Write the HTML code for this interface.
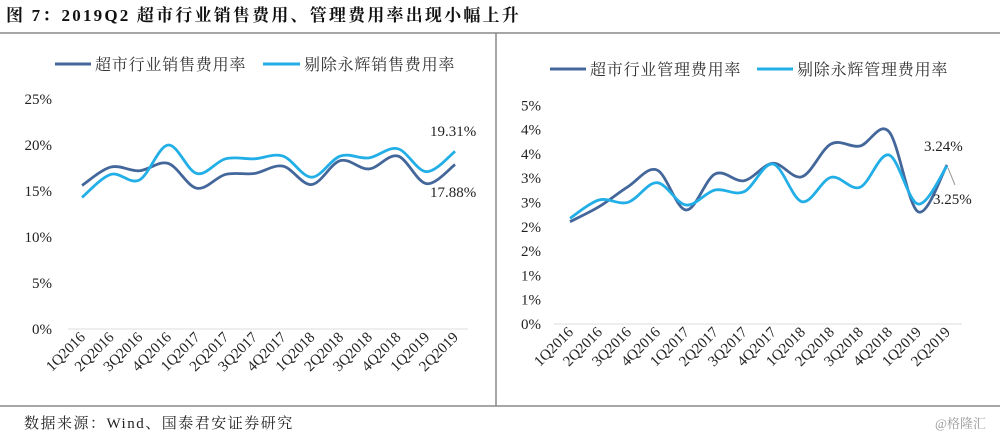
<!DOCTYPE html>
<html><head><meta charset="utf-8"><style>
html,body{margin:0;padding:0;background:#fff;width:1000px;height:437px;overflow:hidden}
svg{display:block}
text{font-family:"Liberation Serif","Noto Serif CJK SC",serif}
</style></head><body>
<svg id="s" width="1000" height="437" xmlns="http://www.w3.org/2000/svg">
<text x="6" y="21" font-size="17" font-weight="bold" fill="#111" letter-spacing="2.2">图 7：2019Q2 超市行业销售费用、管理费用率出现小幅上升</text>
<line x1="0" y1="33" x2="1000" y2="33" stroke="#888" stroke-width="1.5"/>
<line x1="496" y1="33" x2="496" y2="406" stroke="#888" stroke-width="1.5"/>
<line x1="0" y1="406" x2="1000" y2="406" stroke="#888" stroke-width="1.5"/>
<text x="24" y="428" font-size="15" fill="#222" letter-spacing="1.5">数据来源：Wind、国泰君安证券研究</text>
<text x="935" y="428" font-size="13" fill="#999" font-family="Liberation Sans,Noto Sans CJK SC,sans-serif">@格隆汇</text>
<line x1="55" y1="64" x2="91" y2="64" stroke="#44679b" stroke-width="3"/>
<text x="95" y="70" font-size="16" fill="#333" letter-spacing="0.8">超市行业销售费用率</text>
<line x1="263" y1="64" x2="300" y2="64" stroke="#22aee6" stroke-width="3"/>
<text x="304" y="70" font-size="16" fill="#333" letter-spacing="0.8">剔除永辉销售费用率</text>
<line x1="550" y1="69" x2="586" y2="69" stroke="#44679b" stroke-width="3"/>
<text x="590" y="75" font-size="16" fill="#333" letter-spacing="0.8">超市行业管理费用率</text>
<line x1="757" y1="69" x2="793" y2="69" stroke="#22aee6" stroke-width="3"/>
<text x="797" y="75" font-size="16" fill="#333" letter-spacing="0.8">剔除永辉管理费用率</text>
<g id="g"></g>
</svg>
<script>
var g=document.getElementById('g'),h='';
function T(x,y,t,extra){h+='<text x="'+x+'" y="'+y+'" font-size="15" fill="#222" '+(extra||'')+'>'+t+'</text>';}
function path(pts,c){var d='M'+pts[0][0]+','+pts[0][1];
for(var i=0;i<pts.length-1;i++){var p0=pts[i-1]||pts[i],p1=pts[i],p2=pts[i+1],p3=pts[i+2]||p2;
d+=' C'+(p1[0]+(p2[0]-p0[0])/6)+','+(p1[1]+(p2[1]-p0[1])/6)+' '+(p2[0]-(p3[0]-p1[0])/6)+','+(p2[1]-(p3[1]-p1[1])/6)+' '+p2[0]+','+p2[1];}
h+='<path d="'+d+'" fill="none" stroke="'+c+'" stroke-width="2.8"/>';}
var L=['1Q2016','2Q2016','3Q2016','4Q2016','1Q2017','2Q2017','3Q2017','4Q2017','1Q2018','2Q2018','3Q2018','4Q2018','1Q2019','2Q2019'];
var y0=329,k=9.2;
h+='<line x1="68" y1="329" x2="468" y2="329" stroke="#ddd" stroke-width="1"/>';
['0%','5%','10%','15%','20%','25%'].forEach(function(t,i){T(52,y0-i*46+5,t,'text-anchor="end"');});
var x0=82,st=28.7;
var d1=[15.6,17.6,17.2,18.0,15.3,16.8,16.9,17.7,15.7,18.3,17.4,18.8,15.8,17.88];
var d2=[14.3,16.8,16.2,20.0,16.9,18.5,18.5,18.8,16.5,18.8,18.6,19.6,17.1,19.31];
path(d1.map(function(v,i){return[x0+i*st,y0-v*k]}),'#44679b');
path(d2.map(function(v,i){return[x0+i*st,y0-v*k]}),'#22aee6');
T(430,136,'19.31%');T(430,197,'17.88%');
L.forEach(function(t,i){var x=x0+i*st+4,y=338;T(x,y,t,'text-anchor="end" transform="rotate(-45 '+x+' '+y+')" font-size="14.5"');});
h+='<line x1="554" y1="324" x2="962" y2="324" stroke="#ddd" stroke-width="1"/>';
['0%','1%','1%','2%','2%','3%','3%','4%','4%','5%'].forEach(function(t,i){T(541,324-i*24.3+5,t,'text-anchor="end"');});
var rx=570,rs=29;
var r1=[221.7,206.7,186.7,170,210,174,180.7,163.3,176.7,144,146,131.7,211.7,165];
var r2=[218.3,200,202.3,182.7,205,190,191.7,164,201.7,177.3,187.3,155,204,166];
path(r1.map(function(v,i){return[rx+i*rs,v]}),'#44679b');
path(r2.map(function(v,i){return[rx+i*rs,v]}),'#22aee6');
h+='<line x1="948" y1="168" x2="955" y2="185" stroke="#999" stroke-width="1"/>';
T(924,151,'3.24%');T(933,204,'3.25%');
L.forEach(function(t,i){var x=rx+i*rs+4,y=333;T(x,y,t,'text-anchor="end" transform="rotate(-45 '+x+' '+y+')" font-size="14.5"');});
g.innerHTML=h;
</script>
</body></html>
